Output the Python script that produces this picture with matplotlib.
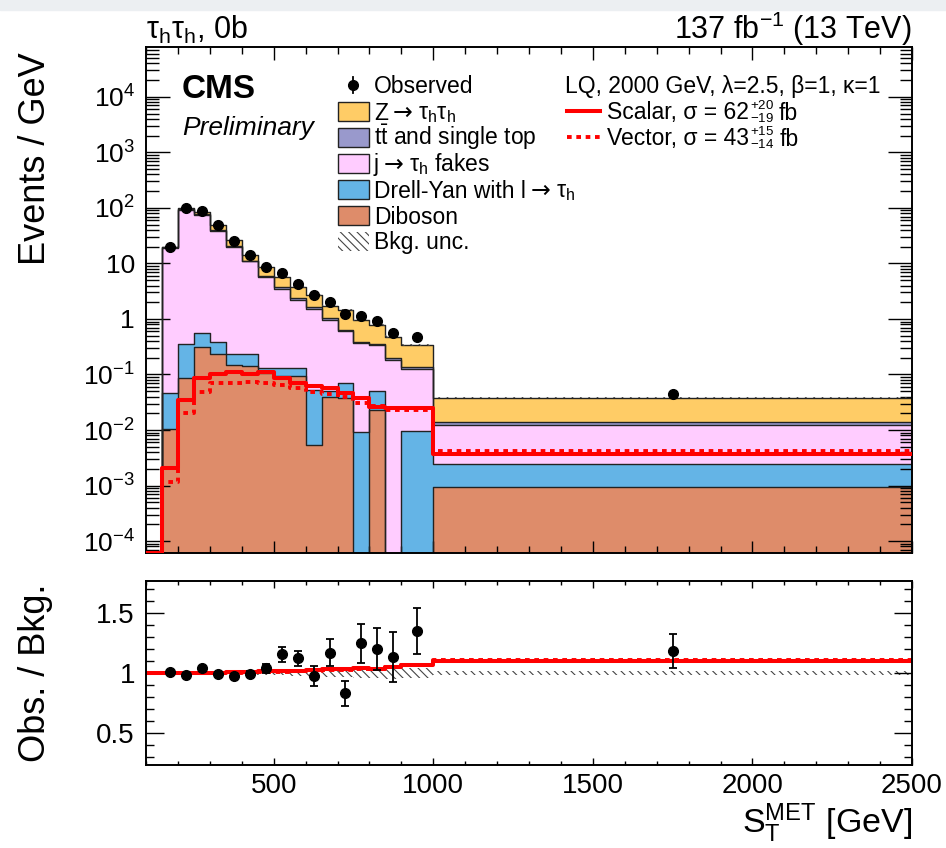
import numpy as np
import matplotlib.pyplot as plt
from matplotlib.patches import Rectangle
from matplotlib.ticker import (FixedLocator, LogLocator, MultipleLocator,
                               FuncFormatter, NullFormatter)

plt.rcParams['font.family'] = ['Liberation Sans', 'DejaVu Sans']
plt.rcParams['mathtext.fontset'] = 'custom'
plt.rcParams['mathtext.rm'] = 'Liberation Sans'
plt.rcParams['mathtext.it'] = 'Liberation Sans:italic'
plt.rcParams['mathtext.bf'] = 'Liberation Sans:bold'
plt.rcParams['hatch.linewidth'] = 0.8

# binning (GeV)
edges = np.array([150, 200, 250, 300, 350, 400, 450, 500, 550, 600, 650, 700,
                  750, 800, 850, 900, 1000, 2500])
sig_edges = np.concatenate([[100], edges])
centers = 0.5 * (edges[1:] + edges[:-1])

# backgrounds, events / GeV (bottom of stack first)
diboson = np.array([0.0103, 0.088, 0.31, 0.23, 0.15, 0.145, 0.105, 0.095, 0.095,
                    0.0054, 0.04, 0.037, 0.0, 0.023, 0.0, 0.0, 0.00095])
drellyan = np.array([0.0355, 0.272, 0.25, 0.15, 0.087, 0.09, 0.027, 0.035, 0.035,
                     0.0476, 0.01, 0.033, 0.0093, 0.028, 0.0, 0.0098, 0.0015])
fakes = np.array([19.25, 91.6, 74.4, 38.6, 19.8, 10.6, 5.47, 3.3, 2.07,
                  1.44, 0.9, 0.53, 0.356, 0.29, 0.182, 0.118, 0.00985])
ttbar = np.array([0.1, 2.0, 2.0, 1.0, 0.6, 0.4, 0.36, 0.29, 0.16,
                  0.18, 0.08, 0.034, 0.025, 0.02, 0.013, 0.01, 0.0018])
ztautau = np.array([0.2, 6.0, 8.0, 9.0, 5.6, 3.2, 2.54, 1.98, 1.39,
                    1.03, 0.71, 0.806, 0.55, 0.41, 0.285, 0.207, 0.0237])
bkg_unc = np.array([0.01, 0.01, 0.01, 0.01, 0.012, 0.015, 0.02, 0.02, 0.025,
                    0.03, 0.03, 0.035, 0.04, 0.045, 0.05, 0.04, 0.02])

observed = np.array([20, 99, 89, 49, 25.7, 14.2, 8.8, 6.7, 4.3,
                     2.7, 2.05, 1.21, 1.15, 0.93, 0.55, 0.47, 0.0446])
ratio = np.array([1.011, 0.983, 1.044, 0.992, 0.975, 0.99, 1.039, 1.158, 1.122,
                  0.975, 1.17, 0.83, 1.247, 1.2, 1.136, 1.35, 1.183])
ratio_err = np.array([0.01, 0.01, 0.01, 0.015, 0.02, 0.025, 0.035, 0.062, 0.063,
                      0.083, 0.115, 0.107, 0.16, 0.174, 0.21, 0.19, 0.14])

# LQ signal (first bin 100-150 GeV is empty)
scalar = np.array([0, 0.0021, 0.0347, 0.0855, 0.102, 0.11, 0.1, 0.11, 0.085, 0.071,
                   0.062, 0.056, 0.047, 0.037, 0.0263, 0.0245, 0.0245, 0.0037])
vector = np.array([0, 0.00117, 0.02, 0.049, 0.069, 0.07, 0.072, 0.07, 0.065, 0.056,
                   0.049, 0.045, 0.039, 0.031, 0.027, 0.023, 0.023, 0.0042])
sig_names = ['Scalar', 'Vector']
sig_xsec = ['62', '43']
sig_up = ['+20', '+15']
sig_dn = ['-19', '-14']

bkg_names = [r'Z → τ$_\mathrm{h}$τ$_\mathrm{h}$', r't$\bar{\mathrm{t}}$ and single top',
             r'j → τ$_\mathrm{h}$ fakes', r'Drell-Yan with l → τ$_\mathrm{h}$', 'Diboson']
colors = {'dib': '#de8c6a', 'dy': '#64b4e6', 'fake': '#ffccff',
          'tt': '#9999cc', 'z': '#ffcc66'}
HATCH = '\\\\\\\\'

YMIN, YMAX = 6.1e-5, 7.9e4
TINY = 1e-9
FS_LEG = 16.5

fig = plt.figure(figsize=(9.46, 8.48), dpi=100)
fig.patches.append(Rectangle((0, 1 - 10 / 848), 1, 10 / 848, transform=fig.transFigure,
                             color='#eceff2', zorder=0))
ax = fig.add_axes([146 / 946, 1 - 553 / 848, 766 / 946, 506 / 848])
rax = fig.add_axes([146 / 946, 1 - 765 / 848, 766 / 946, 184 / 848])
renderer = fig.canvas.get_renderer()


def axpos(px, py):
    # figure pixel -> main-axes fraction
    return (px - 146) / 766, (553 - py) / 506


def put(x, base_py, s, dy=0, **kw):
    # text piece placed in figure pixels; returns right edge in pixels
    t = fig.text(x / 946, 1 - (base_py + dy) / 848, s, va='baseline', **kw)
    return t.get_window_extent(renderer).x1


def outline(a, vals, **kw):
    x = np.concatenate([[edges[0]], edges])
    y = np.concatenate([[TINY], vals, [vals[-1]]])
    a.step(x, y, where='post', **kw)


layers = [(diboson, 'dib'), (drellyan, 'dy'), (fakes, 'fake'), (ttbar, 'tt'), (ztautau, 'z')]
base = np.zeros(len(centers))
for vals, key in layers:
    top = base + vals
    ax.stairs(np.maximum(top, TINY), edges, baseline=np.maximum(base, TINY), fill=True,
              color=colors[key], lw=0, zorder=1)
    base = top
base = np.zeros(len(centers))
for vals, key in layers:
    base = base + vals
    outline(ax, np.maximum(base, TINY), color='#222222', lw=1.0, zorder=2)
total = base

# background uncertainty band
ax.stairs(total * (1 + bkg_unc), edges, baseline=total * (1 - bkg_unc), fill=True,
          facecolor='none', edgecolor='#444444', hatch=HATCH, lw=0, zorder=3)

# signal
ax.step(sig_edges, np.concatenate([np.maximum(scalar, YMIN), [scalar[-1]]]), where='post',
        color='red', lw=2.9, zorder=4)
ax.step(sig_edges, np.concatenate([np.maximum(vector, YMIN), [vector[-1]]]), where='post',
        color='red', lw=2.8, ls=(0, (1.2, 1.2)), zorder=4)

obs_err = observed * ratio_err / ratio
ax.errorbar(centers, observed, yerr=obs_err, fmt='o', color='k', ms=7,
            elinewidth=1.3, capsize=0, zorder=5)

ax.set_yscale('log')
ax.set_ylim(YMIN, YMAX)
ax.set_xlim(100, 2500)


def log_fmt(v, pos):
    e = int(round(np.log10(v)))
    if e == 0:
        return '1'
    if e == 1:
        return '10'
    return r'$\mathregular{10^{%d}}$' % e


ax.yaxis.set_major_locator(FixedLocator(10.0 ** np.arange(-4, 5)))
ax.yaxis.set_minor_locator(LogLocator(base=10, subs=np.arange(2, 10), numticks=20))
ax.yaxis.set_major_formatter(FuncFormatter(log_fmt))
ax.yaxis.set_minor_formatter(NullFormatter())
ax.xaxis.set_major_locator(MultipleLocator(500))
ax.xaxis.set_minor_locator(MultipleLocator(100))
ax.tick_params(which='both', direction='in', top=True, right=True, labelbottom=False)
ax.tick_params(axis='y', which='major', length=17, width=1, labelsize=19, pad=8)
ax.tick_params(axis='y', which='minor', length=9, width=1)
ax.tick_params(axis='x', which='major', length=9, width=1)
ax.tick_params(axis='x', which='minor', length=5, width=1)
for s in ax.spines.values():
    s.set_linewidth(1.4)
ax.set_ylabel('Events / GeV', fontsize=26, loc='top')
ax.yaxis.set_label_coords(-0.121, 0.99)

# legend, left block
rows = [85, 111.5, 137.5, 163.5, 189.5, 215.5, 241.5]
TX = 374
mx, my = axpos(353, rows[0])
ax.plot([mx], [my], 'o', color='k', ms=7, transform=ax.transAxes, clip_on=False)
ax.plot([mx, mx], [axpos(0, rows[0] + 8)[1], axpos(0, rows[0] - 8)[1]], color='k',
        lw=1.3, transform=ax.transAxes)
put(TX, rows[0] + 8, 'Observed', fontsize=FS_LEG)
box_w = 31 / 766
box_h = 19 / 506
for name, key, row in zip(bkg_names, ['z', 'tt', 'fake', 'dy', 'dib'], rows[1:6]):
    bx, by = axpos(338, row + 9.5)
    ax.add_patch(Rectangle((bx, by), box_w, box_h, transform=ax.transAxes,
                           facecolor=colors[key], edgecolor='#222222', lw=1.0))
    if ' → ' in name:
        left, right = name.split(' → ')
        x = put(TX, row + 8, left, fontsize=FS_LEG)
        x = put(x + 5, row + 8, '→', fontsize=17, family='DejaVu Sans')
        put(x + 5, row + 8, right, fontsize=FS_LEG)
    else:
        put(TX, row + 8, name, fontsize=FS_LEG)
bx, by = axpos(338, rows[6] + 9.5)
ax.add_patch(Rectangle((bx, by), box_w, box_h, transform=ax.transAxes,
                       facecolor='none', edgecolor='#444444', hatch=HATCH, lw=0))
put(TX, rows[6] + 8, 'Bkg. unc.', fontsize=FS_LEG)

# legend, signal block
put(565, rows[0] + 8, 'LQ, 2000 GeV, λ=2.5, β=1, κ=1', fontsize=FS_LEG)
sig_styles = [dict(lw=2.9), dict(lw=2.8, ls=(0, (1.2, 1.2)))]
for name, xs, up, dn, st, row in zip(sig_names, sig_xsec, sig_up, sig_dn,
                                     sig_styles, rows[1:3]):
    x0, yy = axpos(567, row)
    x1 = axpos(600, row)[0]
    ax.plot([x0, x1], [yy, yy], color='red', transform=ax.transAxes, **st)
    x = put(607, row + 8, f'{name}, σ = {xs}', fontsize=FS_LEG)
    xu = put(x + 1, row + 8, r'$\mathrm{%s}$' % up, dy=-10.5, fontsize=9.5)
    xd = put(x + 1, row + 8, r'$\mathrm{%s}$' % dn, dy=3, fontsize=9.5)
    put(max(xu, xd) + 5, row + 8, 'fb', fontsize=FS_LEG)

ax.text(*axpos(182, 90), 'CMS', transform=ax.transAxes,
        fontsize=24, fontweight='bold', ha='left', va='center')
ax.text(*axpos(182, 128), 'Preliminary', transform=ax.transAxes,
        fontsize=19, style='italic', ha='left', va='center')
ax.text(0.0, axpos(0, 39)[1], r'τ$_\mathrm{h}$τ$_\mathrm{h}$, 0b', transform=ax.transAxes,
        fontsize=22, ha='left', va='baseline')
ax.text(1.0, axpos(0, 39)[1], r'137 fb$^{-1}$ (13 TeV)', transform=ax.transAxes,
        fontsize=22, ha='right', va='baseline')

# ratio panel
rax.stairs(1 + bkg_unc, edges, baseline=1 - bkg_unc, fill=True, facecolor='none',
           edgecolor='#444444', hatch=HATCH, lw=0, zorder=1)
bkg_full = np.concatenate([[np.inf], total])
r_scalar = 1 + scalar / bkg_full
r_vector = 1 + vector / bkg_full
rax.step(sig_edges, np.concatenate([r_scalar, [r_scalar[-1]]]), where='post',
         color='red', lw=2.9, zorder=2)
rax.step(sig_edges, np.concatenate([r_vector, [r_vector[-1]]]), where='post',
         color='red', lw=2.8, ls=(0, (1.2, 1.2)), zorder=2)
rax.errorbar(centers, ratio, yerr=ratio_err, fmt='o', color='k', ms=7,
             elinewidth=1.3, capsize=3, capthick=1.3, zorder=3)
rax.set_xlim(100, 2500)
rax.set_ylim(0.23, 1.77)
rax.xaxis.set_major_locator(MultipleLocator(500))
rax.xaxis.set_minor_locator(MultipleLocator(100))
rax.yaxis.set_major_locator(FixedLocator([0.5, 1.0, 1.5]))
rax.yaxis.set_minor_locator(MultipleLocator(0.1))
rax.yaxis.set_major_formatter(FuncFormatter(lambda v, p: '%g' % v))
rax.tick_params(which='both', direction='in', top=True, right=True, labelsize=20)
rax.tick_params(axis='y', which='major', length=13, width=1, pad=8)
rax.tick_params(axis='y', which='minor', length=6, width=1)
rax.tick_params(axis='x', which='major', length=5, width=1, pad=6)
rax.tick_params(axis='x', which='minor', length=3, width=1)
for s in rax.spines.values():
    s.set_linewidth(1.4)
rax.set_ylabel('Obs. / Bkg.', fontsize=26)
rax.yaxis.set_label_coords(-0.121, 0.5)
rax.set_xlabel(r'S$_\mathrm{T}^\mathrm{MET}$ [GeV]', fontsize=24.5, loc='right')
rax.xaxis.set_label_coords(1.0, -0.2)

fig.savefig('out.png', dpi=100)
